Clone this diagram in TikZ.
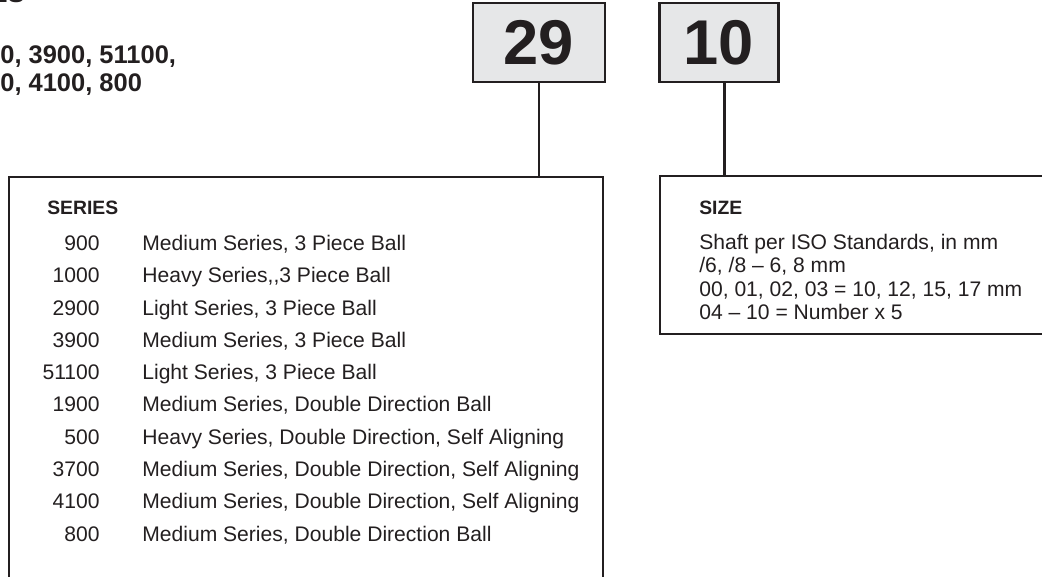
\documentclass[tikz,border=0pt]{standalone}
\usepackage{fontspec}
\setmainfont{Liberation Sans}
\usetikzlibrary{positioning}
\definecolor{inkblack}{RGB}{35, 31, 32}
\definecolor{codegray}{RGB}{230, 231, 232}

\begin{document}
\begin{tikzpicture}[x=0.02cm, y=-0.02cm,
    codebox/.style={draw=inkblack, line width=1.4pt, fill=codegray, minimum width=#1,
                    minimum height=1.58cm, inner sep=0pt,
                    font=\fontsize{36}{36}\selectfont\bfseries, text=inkblack},
    panel/.style={draw=inkblack, line width=1.4pt, inner sep=0pt},
    link/.style={draw=inkblack, line width=1.4pt},
    heading/.style={anchor=base west, inner sep=0pt, font=\fontsize{11}{13}\selectfont\bfseries, text=inkblack},
    body/.style={inner sep=0pt, font=\fontsize{12}{14}\selectfont, text=inkblack},
    intro/.style={anchor=base west, inner sep=0pt, font=\fontsize{14.5}{17}\selectfont\bfseries, text=inkblack}
]
    \useasboundingbox (0,0) rectangle (1042,577);
    \clip (0,0) rectangle (1042,577);

    % cut-off text at the top left
    \node[intro, anchor=base east] (titlecut) at (25,3) {ES};
    \node[intro] (intro-a) at (0,63.2) {0, 3900, 51100,};
    \node[intro] (intro-b) at (0,91.2) {0, 4100, 800};

    % code boxes
    \node[codebox=2.64cm] (code29) at (539,42.5) {29};
    \node[codebox=2.38cm] (code10) at (718.8,42.5) {10};

    % panels
    \node[panel, minimum width=11.88cm, minimum height=9.3cm] (series) at (306,409.5) {};
    \node[panel, minimum width=8.8cm, minimum height=3.16cm] (size) at (880,255) {};

    \draw[link] (code29) -- (code29 |- series.north);
    \draw[link] ([xshift=0.11cm]code10.south) -- ([xshift=0.11cm]code10.south |- size.north);

    % series list
    \node[heading] (series-title) at (47,214.7) {SERIES};
    \foreach \num/\desc [count=\i from 0] in {900/{Medium Series, 3 Piece Ball},
        1000/{Heavy Series,{},3 Piece Ball}, 2900/{Light Series, 3 Piece Ball},
        3900/{Medium Series, 3 Piece Ball}, 51100/{Light Series, 3 Piece Ball},
        1900/{Medium Series, Double Direction Ball},
        500/{Heavy Series, Double Direction, Self Aligning},
        3700/{Medium Series, Double Direction, Self Aligning},
        4100/{Medium Series, Double Direction, Self Aligning},
        800/{Medium Series, Double Direction Ball}} {
        \node[body, anchor=base east] (num-\i) at (100,250.5+32.3*\i) {\num};
        \node[body, anchor=base west] (desc-\i) at (142,250.5+32.3*\i) {\desc};
    }

    % size list
    \node[heading] (size-title) at (699,214.7) {SIZE};
    \foreach \entry [count=\i from 0] in {{Shaft per ISO Standards, in mm},
        {/6, /8 -- 6, 8 mm}, {00, 01, 02, 03 = 10, 12, 15, 17 mm},
        {04 -- 10 = Number x 5}} {
        \node[body, anchor=base west] (size-\i) at (699,249.5+23.3*\i) {\entry};
    }
\end{tikzpicture}
\end{document}
